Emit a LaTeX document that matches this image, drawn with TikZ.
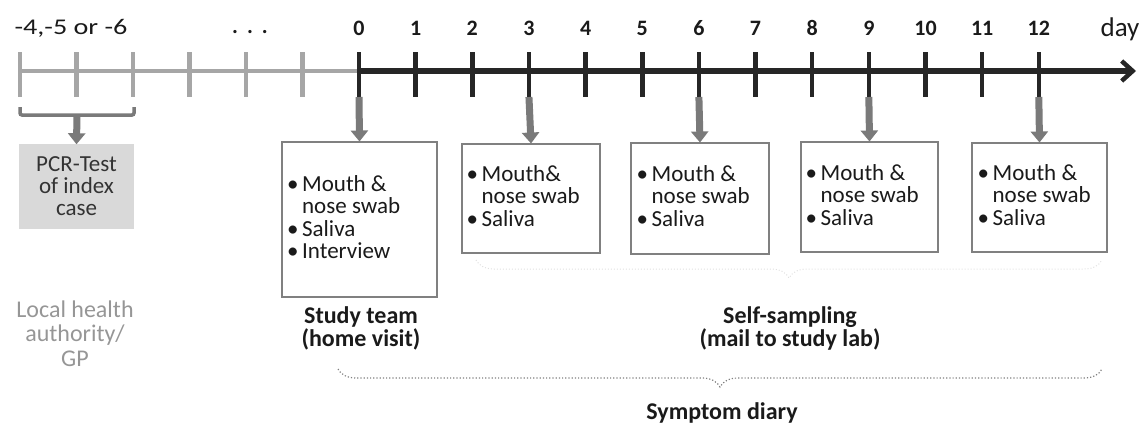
\documentclass[tikz,border=0pt]{standalone}
\usepackage{fontspec}
\setmainfont{Carlito}
\usetikzlibrary{arrows.meta,decorations.pathreplacing}
\definecolor{axdark}{HTML}{262626}
\definecolor{axgray}{HTML}{A6A6A6}
\definecolor{arrgray}{HTML}{7A7A7A}
\definecolor{boxgray}{HTML}{808080}
\definecolor{pcrfill}{HTML}{D9D9D9}
\definecolor{txtdark}{HTML}{1A1A1A}
\definecolor{lhgray}{HTML}{969696}
\newcommand{\bitems}[1]{\begin{tabular}[t]{@{}l@{\hspace{3.5pt}}l@{}}#1\end{tabular}}
\begin{document}
\begin{tikzpicture}[x=1pt,y=-1pt,
  graytick/.style={axgray,line width=4.5pt},
  darktick/.style={axdark,line width=4.5pt},
  daylab/.style={anchor=base,font=\fontsize{22}{22}\selectfont\bfseries,text=txtdark,inner sep=0pt},
  downarr/.style={arrgray,line width=7pt,-{Triangle[width=17pt,length=11pt]},shorten >=-0.5pt},
  sbox/.style={draw=boxgray,line width=2pt,fill=white,inner sep=0pt},
  btext/.style={anchor=base west,inner sep=0pt,font=\fontsize{23}{22.3}\selectfont,text=txtdark},
  blabel/.style={anchor=base,align=center,inner sep=0pt,font=\fontsize{24}{23.5}\selectfont\bfseries,text=txtdark},
  dotbrace/.style={decorate,decoration={brace,mirror,amplitude=18pt},dotted,line width=1.2pt}
]
\useasboundingbox (0,0) rectangle (1145,426);
% gray (pre-study) part of axis
\draw[axgray,line width=4pt] (20,71) -- (359,71);
\foreach \k in {0,...,5}{
  \draw[graytick] ({20+56.5*\k},52) -- ({20+56.5*\k},97);
}
% dark axis
\draw[axdark,line width=6pt,-{Straight Barb[length=11pt,width=20pt,line width=4.5pt]}] (359,71) -- (1136,71);
\foreach \k in {0,...,12}{
  \draw[darktick] ({359+56.65*\k},52) -- ({359+56.65*\k},97);
  \node[daylab] at ({359+56.65*\k},35) {\k};
  \coordinate (d\k) at ({359+56.65*\k},97);
}
\node[anchor=base,inner sep=0pt,font=\fontsize{22.5}{22}\selectfont,text=txtdark] (early) at (71,34) {\scalebox{1.25}[1]{-4,-5 or -6}};
\node[anchor=base,inner sep=0pt,font=\fontsize{22}{22}\selectfont\bfseries,text=txtdark] (dots) at (250,33.5) {.\hspace{9pt}.\hspace{9pt}.};
\node[anchor=base,inner sep=0pt,font=\fontsize{27}{27}\selectfont,text=txtdark] (day) at (1120,36) {day};

% bracket for index case
\coordinate (brL) at (20,107);
\coordinate (brR) at (134,107);
\coordinate (brC) at (77,115);
\draw[arrgray,line width=3.5pt,rounded corners=2pt] (brL) -- (20,115) -- (134,115) -- (brR);
\node[fill=pcrfill,minimum width=115pt,minimum height=85pt,inner sep=0pt,align=center,
      font=\fontsize{23}{22}\selectfont,text={black!80}] (pcr) at (76.5,186.5) {PCR-Test\\of index\\case};
\draw[downarr] (brC) -- (pcr.north);
\node[anchor=base,align=center,inner sep=0pt,font=\fontsize{24}{24.5}\selectfont,text=lhgray] (lha) at (75,366) {Local health\\authority/\\GP};

% sample boxes
\node[sbox,minimum width=155pt,minimum height=155pt] (b0) at (359.5,219.5) {};
\node[sbox,minimum width=138pt,minimum height=109pt] (b1) at (531,198.5) {};
\node[sbox,minimum width=138pt,minimum height=111pt] (b2) at (700,198.5) {};
\node[sbox,minimum width=137pt,minimum height=110pt] (b3) at (869.5,197) {};
\node[sbox,minimum width=135pt,minimum height=109pt] (b4) at (1039.5,197.5) {};
\draw[downarr] (d0) -- (b0.north);
\draw[downarr] (d3) -- (b1.north);
\draw[downarr] (d6) -- (b2.north);
\draw[downarr] (d9) -- (b3.north);
\draw[downarr] (d12) -- (b4.north);

\node[btext] (t0) at (287,191) {\bitems{\textbullet & Mouth \&\\ & nose swab\\ \textbullet & Saliva\\ \textbullet & Interview}};
\node[btext] (t1) at (466.5,181) {\bitems{\textbullet & Mouth\&\\ & nose swab\\ \textbullet & Saliva}};
\node[btext] (t2) at (636.5,181) {\bitems{\textbullet & Mouth \&\\ & nose swab\\ \textbullet & Saliva}};
\node[btext] (t3) at (805.5,180) {\bitems{\textbullet & Mouth \&\\ & nose swab\\ \textbullet & Saliva}};
\node[btext] (t4) at (977.5,180) {\bitems{\textbullet & Mouth \&\\ & nose swab\\ \textbullet & Saliva}};

% labels
\node[blabel] (team) at (361,346.5) {Study team\\(home visit)};
\node[blabel] (self) at (790,346.5) {Self-sampling\\(mail to study lab)};
\node[blabel] (diary) at (722,419) {Symptom diary};

% braces
\coordinate (ssL) at (476,260);
\coordinate (ssR) at (1102,260);
\draw[dotbrace,black!12,line width=1pt] (ssL) -- (ssR);
\coordinate (sdL) at (338,369);
\coordinate (sdR) at (1102,369);
\draw[dotbrace,boxgray] (sdL) -- (sdR);
\end{tikzpicture}
\end{document}
